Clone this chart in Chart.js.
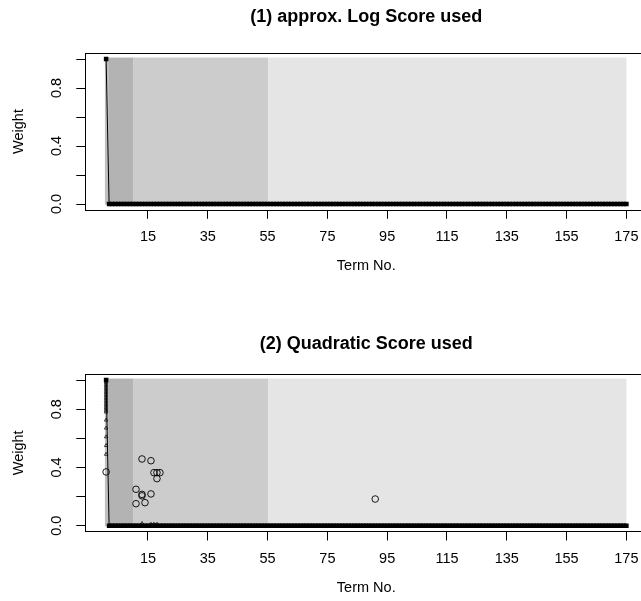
<!DOCTYPE html>
<html>
<head>
<meta charset="utf-8">
<title>Term weights</title>
<script src="https://cdn.jsdelivr.net/npm/chart.js@4.4.0/dist/chart.umd.min.js"></script>
<style>
  html, body { margin: 0; padding: 0; background: #fff; width: 641px; height: 601px; overflow: hidden; }
  .panel { position: absolute; left: 0; width: 660px; }
  #panelLog { top: 0; height: 300px; }
  #panelQuad { top: 300px; height: 301px; }
</style>
</head>
<body>
<div class="panel" id="panelLog"><canvas id="logChart" width="660" height="300"></canvas></div>
<div class="panel" id="panelQuad"><canvas id="quadChart" width="660" height="301"></canvas></div>
<script>
const FONT = "'Liberation Sans', Arial, Helvetica, sans-serif";

// axis ticks
const termTicks = [15, 35, 55, 75, 95, 115, 135, 155, 175];
const weightTicks = [0, 0.2, 0.4, 0.6, 0.8, 1.0];
const weightTickLabels = ["0.0", "", "0.4", "", "0.8", ""];

// term groups shaded behind the weights
const groupEdges = [0.6, 1.7, 10.2, 55.2, 175];
const groupColors = ["#bfbfbf", "#b3b3b3", "#cccccc", "#e5e5e5"];

// final weight per term (terms 1..175)
const logWeights = [
  1, 0, 0, 0, 0, 0, 0, 0, 0, 0, 0, 0, 0, 0, 0, 0, 0, 0, 0, 0, 0, 0, 0, 0, 0,
  0, 0, 0, 0, 0, 0, 0, 0, 0, 0, 0, 0, 0, 0, 0, 0, 0, 0, 0, 0, 0, 0, 0, 0, 0,
  0, 0, 0, 0, 0, 0, 0, 0, 0, 0, 0, 0, 0, 0, 0, 0, 0, 0, 0, 0, 0, 0, 0, 0, 0,
  0, 0, 0, 0, 0, 0, 0, 0, 0, 0, 0, 0, 0, 0, 0, 0, 0, 0, 0, 0, 0, 0, 0, 0, 0,
  0, 0, 0, 0, 0, 0, 0, 0, 0, 0, 0, 0, 0, 0, 0, 0, 0, 0, 0, 0, 0, 0, 0, 0, 0,
  0, 0, 0, 0, 0, 0, 0, 0, 0, 0, 0, 0, 0, 0, 0, 0, 0, 0, 0, 0, 0, 0, 0, 0, 0,
  0, 0, 0, 0, 0, 0, 0, 0, 0, 0, 0, 0, 0, 0, 0, 0, 0, 0, 0, 0, 0, 0, 0, 0, 0
];
// quadratic score ends on the same weights
const quadWeights = logWeights.slice();

// intermediate weights under the quadratic score
const quadCircleTerm = [1, 11, 11, 13, 13, 13, 14, 16, 16, 17, 18, 18, 19, 91];
const quadCircleWeight = [0.369, 0.25, 0.151, 0.458, 0.215, 0.205, 0.158, 0.446, 0.218, 0.364, 0.364, 0.323, 0.364, 0.183];
const quadTriTerm = [
  1, 1, 1, 1, 1, 1, 1, 1, 1, 1, 1, 1, 1, 1, 1, 1, 1, 1, 1, 1, 1, 1, 1,
  1, 1, 1, 1, 1, 13, 16, 17, 18
];
const quadTriWeight = [
  1.0, 0.99, 0.98, 0.97, 0.96, 0.95, 0.94, 0.93, 0.92, 0.91, 0.9, 0.89, 0.88, 0.87, 0.86, 0.85, 0.84, 0.83, 0.82, 0.81, 0.8, 0.79, 0.78,
  0.725, 0.67, 0.61, 0.55, 0.49, 0.015, 0.01, 0.01, 0.01
];

const toPoints = (xs, ys) => xs.map((x, i) => ({ x, y: ys[i] }));
const weightPoints = ws => ws.map((w, i) => ({ x: i + 1, y: w }));

const groupShading = {
  id: "groupShading",
  beforeDatasetsDraw(chart) {
    const { ctx, scales: { x, y } } = chart;
    const top = y.getPixelForValue(1.01), bottom = y.getPixelForValue(-0.005);
    ctx.save();
    for (let i = 0; i < groupColors.length; i++) {
      const x0 = x.getPixelForValue(groupEdges[i]);
      const x1 = x.getPixelForValue(groupEdges[i + 1]);
      ctx.fillStyle = groupColors[i];
      ctx.fillRect(x0, top, x1 - x0, bottom - top);
    }
    ctx.restore();
  }
};

const plotBox = {
  id: "plotBox",
  afterDatasetsDraw(chart) {
    const { ctx, chartArea: a } = chart;
    ctx.save();
    ctx.strokeStyle = "#000";
    ctx.lineWidth = 1;
    ctx.strokeRect(Math.round(a.left) + 0.5, Math.round(a.top) + 0.5,
      Math.round(a.right - a.left), Math.round(a.bottom - a.top));
    ctx.restore();
  }
};

// y tick labels run parallel to the axis
const verticalTickLabels = {
  id: "verticalTickLabels",
  afterDraw(chart) {
    const { ctx } = chart;
    const y = chart.scales.y;
    ctx.save();
    ctx.fillStyle = "#000";
    ctx.font = "14.5px " + FONT;
    ctx.textAlign = "center";
    ctx.textBaseline = "middle";
    weightTicks.forEach((v, i) => {
      if (!weightTickLabels[i]) return;
      ctx.save();
      ctx.translate(57, y.getPixelForValue(v));
      ctx.rotate(-Math.PI / 2);
      ctx.fillText(weightTickLabels[i], 0, 0);
      ctx.restore();
    });
    ctx.restore();
  }
};

function panelOptions(box, H, titleCenter) {
  const titleSize = 18, titleLH = titleSize * 1.2;
  const labSize = 14.5, labLH = labSize * 1.2;
  const titleTop = titleCenter - titleLH / 2;
  const labFont = { family: FONT, size: labSize, lineHeight: 1.2 };
  return {
    responsive: false,
    animation: false,
    layout: { padding: { left: 0, right: 660 - box.right, top: 0, bottom: 0 } },
    plugins: {
      legend: { display: false },
      tooltip: { enabled: false },
      title: {
        display: true,
        fullSize: false,
        text: box.title,
        color: "#000",
        font: { family: FONT, size: titleSize, weight: "bold", lineHeight: 1.2 },
        padding: { top: titleTop, bottom: box.top - titleTop - titleLH }
      }
    },
    scales: {
      x: {
        type: "linear",
        min: -5.96,
        max: 181.96,
        afterBuildTicks: s => { s.ticks = termTicks.map(v => ({ value: v })); },
        afterFit: s => { s.height = H - box.bottom; },
        grid: { display: true, drawOnChartArea: false, drawTicks: true, tickLength: 9, tickColor: "#000", tickWidth: 1 },
        border: { display: false },
        ticks: { autoSkip: false, maxRotation: 0, minRotation: 0, color: "#000", padding: 9.3, font: labFont },
        title: {
          display: true, text: "Term No.", color: "#000", font: labFont,
          padding: { top: 0, bottom: H - box.bottom - 56.5 - labLH / 2 }
        }
      },
      y: {
        type: "linear",
        min: -0.04,
        max: 1.04,
        afterBuildTicks: s => { s.ticks = weightTicks.map(v => ({ value: v })); },
        afterFit: s => { s.width = box.left; },
        grid: { display: true, drawOnChartArea: false, drawTicks: true, tickLength: 9, tickColor: "#000", tickWidth: 1 },
        border: { display: false },
        ticks: { display: false },
        title: {
          display: true, text: "Weight", color: "#000", font: labFont,
          padding: { top: 19 - labLH / 2, bottom: 0 }
        }
      }
    }
  };
}

// thin drop from the first term, heavy run along the zero weights
const weightLine = ws => ({
  data: weightPoints(ws),
  showLine: true,
  borderColor: "#000",
  borderWidth: 1,
  segment: {
    borderWidth: c => (c.p0.parsed.y === 0 && c.p1.parsed.y === 0 ? 4 : 1)
  },
  tension: 0,
  pointStyle: "rect",
  pointRadius: 3.2,
  pointBackgroundColor: "#000",
  pointBorderWidth: 0
});

new Chart(document.getElementById("logChart"), {
  type: "scatter",
  data: { datasets: [weightLine(logWeights)] },
  options: panelOptions({ title: "(1) approx. Log Score used", left: 85.3, right: 647.2, top: 53.2, bottom: 209.8 }, 300, 17),
  plugins: [groupShading, plotBox, verticalTickLabels]
});

new Chart(document.getElementById("quadChart"), {
  type: "scatter",
  data: {
    datasets: [
      weightLine(quadWeights),
      {
        data: toPoints(quadTriTerm, quadTriWeight),
        pointStyle: "triangle",
        pointRadius: 2,
        pointBorderColor: "#333",
        pointBackgroundColor: "rgba(0,0,0,0)",
        pointBorderWidth: 1
      },
      {
        data: toPoints(quadCircleTerm, quadCircleWeight),
        pointStyle: "circle",
        pointRadius: 3.3,
        pointBorderColor: "#000",
        pointBackgroundColor: "rgba(0,0,0,0)",
        pointBorderWidth: 0.9
      }
    ]
  },
  options: panelOptions({ title: "(2) Quadratic Score used", left: 85.3, right: 647.2, top: 74.2, bottom: 231.5 }, 301, 44),
  plugins: [groupShading, plotBox, verticalTickLabels]
});
</script>
</body>
</html>
